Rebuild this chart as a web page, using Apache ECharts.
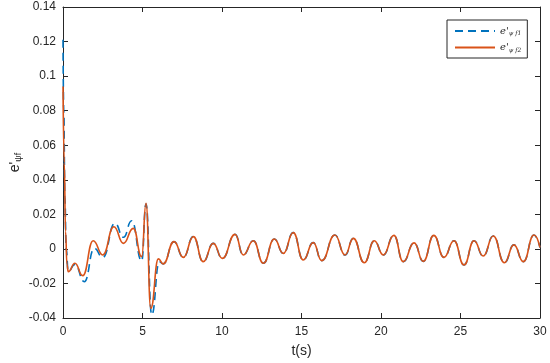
<!DOCTYPE html>
<html>
<head>
<meta charset="utf-8">
<script src="https://cdn.jsdelivr.net/npm/echarts@6/dist/echarts.min.js"></script>
<style>
  html, body { margin: 0; padding: 0; background: #fff; }
  #chart { width: 550px; height: 363px; }
</style>
</head>
<body>
<div id="chart"></div>
<script>
// values: [t (s), e'] at turning points
const e1Head = [
  [0, 0.121], [0.05, 0.08], [0.12, 0.03], [0.2, 0.0], [0.33, -0.013],
  [0.75, -0.009], [1.34, -0.019], [1.97, 0.0003], [2.5, -0.0049],
  [3.27, 0.0148], [3.8, 0.0067], [4.32, 0.0163], [4.95, -0.007],
  [5.22, 0.026], [5.58, -0.0382], [6.06, -0.0074], [6.3, -0.0087]
];
const e2Head = [
  [0, 0.094], [0.08, 0.05], [0.16, 0.01], [0.25, -0.009], [0.33, -0.0132],
  [0.75, -0.0083], [1.24, -0.0155], [1.9, 0.0047], [2.5, -0.0035],
  [3.2, 0.0128], [3.8, 0.0032], [4.42, 0.0119], [4.95, -0.0045],
  [5.22, 0.0264], [5.52, -0.0344], [6.0, -0.0058], [6.3, -0.0087]
];
// both errors overlap after ~6.5 s
const tail = [
  [6.98, 0.0042], [7.57, -0.0049], [8.2, 0.0071], [8.82, -0.0074],
  [9.45, 0.0032], [10.02, -0.0055], [10.82, 0.0084], [11.34, -0.0035],
  [11.97, 0.0047], [12.6, -0.0083], [13.29, 0.0057], [13.86, -0.0026],
  [14.48, 0.0094], [15.11, -0.0064], [15.74, 0.0036], [16.27, -0.0068],
  [17.1, 0.008], [17.74, -0.0035], [18.26, 0.0061], [18.95, -0.008],
  [19.58, 0.0047], [20.14, -0.0035], [20.81, 0.0078], [21.4, -0.0074],
  [22.08, 0.0035], [22.66, -0.0072], [23.32, 0.0078], [23.96, -0.0049],
  [24.59, 0.0047], [25.22, -0.0093], [25.85, 0.0047], [26.43, -0.0041],
  [27.06, 0.0075], [27.76, -0.008], [28.36, 0.0023], [28.95, -0.0074],
  [29.62, 0.008], [30, 0.0008]
];
const xTicks = { min: 0, max: 30, step: 5 };
const yTicks = { min: -0.04, max: 0.14, step: 0.02 };

const e1 = e1Head.concat(tail);
const e2 = e2Head.concat(tail);

const axisColor = "#262626";
const font = "Liberation Sans, Arial, sans-serif";

const chart = echarts.init(document.getElementById("chart"));
chart.setOption({
  animation: false,
  grid: { left: 63, right: 10, top: 7, bottom: 45, outerBoundsMode: "none" },
  legend: {
    orient: "vertical",
    left: 447,
    top: 20,
    itemWidth: 40,
    itemHeight: 10,
    itemGap: 6,
    padding: [6, 6, 5, 7],
    borderColor: axisColor,
    borderWidth: 1,
    backgroundColor: "#fff",
    data: ["e1", "e2"],
    itemStyle: { color: "transparent", borderWidth: 0 },
    formatter: name => (name === "e1" ? "{a|e'}{b|ψ f1}" : "{a|e'}{b|ψ f2}"),
    textStyle: {
      rich: {
        a: { fontFamily: "DejaVu Serif", fontStyle: "italic", fontSize: 10, color: axisColor },
        b: { fontFamily: "DejaVu Serif", fontStyle: "italic", fontSize: 6, color: axisColor, padding: [5, 0, 0, 0] }
      }
    }
  },
  xAxis: [
    {
      type: "value",
      min: xTicks.min,
      max: xTicks.max,
      interval: xTicks.step,
      name: "t(s)",
      nameLocation: "middle",
      nameGap: 26,
      nameTextStyle: { fontFamily: font, fontSize: 14, color: axisColor },
      axisLine: { onZero: false, lineStyle: { color: axisColor } },
      axisTick: { inside: true, length: 5, lineStyle: { color: axisColor } },
      axisLabel: { fontFamily: font, fontSize: 12, color: axisColor, margin: 8 },
      splitLine: { show: false }
    },
    {
      type: "value",
      position: "top",
      min: xTicks.min,
      max: xTicks.max,
      interval: xTicks.step,
      axisLine: { show: true, onZero: false, lineStyle: { color: axisColor } },
      axisTick: { inside: true, length: 5, lineStyle: { color: axisColor } },
      axisLabel: { show: false },
      splitLine: { show: false }
    }
  ],
  yAxis: [
    {
      type: "value",
      min: yTicks.min,
      max: yTicks.max,
      interval: yTicks.step,
      name: "{a|e'}{b|ψf}",
      nameLocation: "middle",
      nameGap: 40,
      nameRotate: 90,
      nameMoveOverlap: false,
      nameTextStyle: {
        rich: {
          a: { fontFamily: font, fontSize: 14, color: axisColor },
          b: { fontFamily: font, fontSize: 9, color: axisColor, padding: [6, 0, 0, 0] }
        }
      },
      axisLine: { show: true, onZero: false, lineStyle: { color: axisColor } },
      axisTick: { show: true, inside: true, length: 5, lineStyle: { color: axisColor } },
      axisLabel: {
        fontFamily: font,
        fontSize: 12,
        color: axisColor,
        margin: 7,
        formatter: v => String(+v.toFixed(2))
      },
      splitLine: { show: false }
    },
    {
      type: "value",
      position: "right",
      min: yTicks.min,
      max: yTicks.max,
      interval: yTicks.step,
      axisLine: { show: true, onZero: false, lineStyle: { color: axisColor } },
      axisTick: { show: true, inside: true, length: 5, lineStyle: { color: axisColor } },
      axisLabel: { show: false },
      splitLine: { show: false }
    }
  ],
  series: [
    {
      name: "e1",
      type: "line",
      data: e1,
      symbol: "none",
      smooth: 0.5,
      smoothMonotone: "x",
      lineStyle: { color: "#0072BD", width: 1.6, type: [8, 5] },
      itemStyle: { color: "#0072BD" }
    },
    {
      name: "e2",
      type: "line",
      data: e2,
      symbol: "none",
      smooth: 0.5,
      smoothMonotone: "x",
      lineStyle: { color: "#D95319", width: 1.6 },
      itemStyle: { color: "#D95319" }
    }
  ]
});
</script>
</body>
</html>
